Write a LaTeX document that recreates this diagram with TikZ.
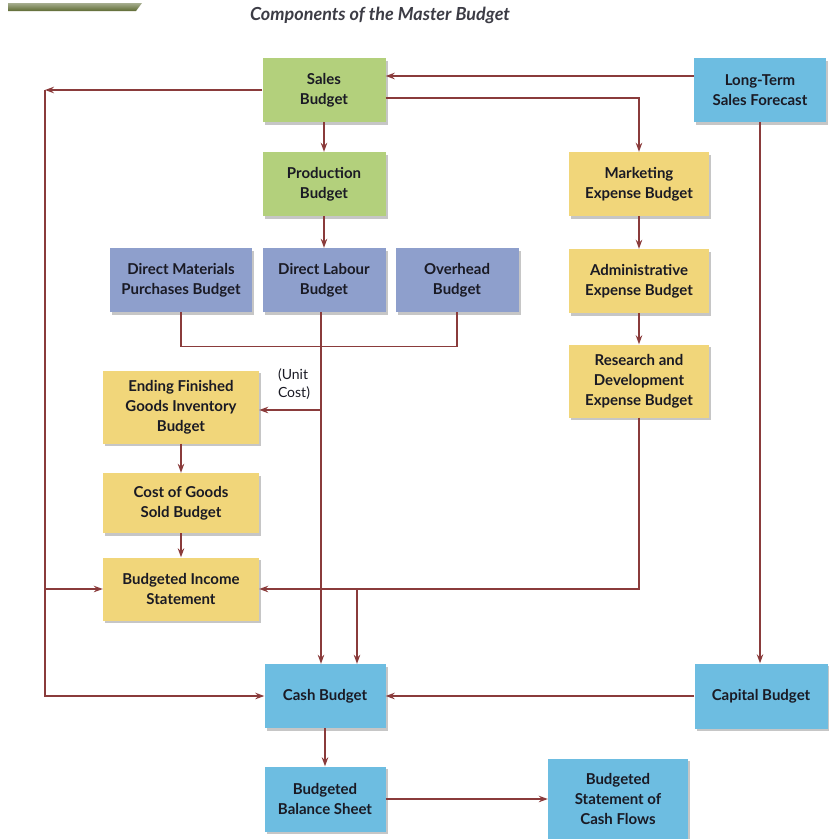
\documentclass[tikz,border=0pt]{standalone}
\usepackage{fontspec}
\setsansfont{Lato}
\usetikzlibrary{arrows.meta,shadows}

\definecolor{sgreen}{HTML}{B3D07C}
\definecolor{sblue}{HTML}{8E9FCC}
\definecolor{syellow}{HTML}{F1D67A}
\definecolor{scyan}{HTML}{6DBDE1}
\definecolor{arrowred}{HTML}{8A3B3B}
\definecolor{olivebar}{HTML}{5E6B33}
\definecolor{boxtext}{HTML}{1A1A24}

\tikzset{
  box/.style={rectangle, align=center, inner sep=2pt, text=boxtext,
    font=\sffamily\bfseries\fontsize{15}{20}\selectfont,
    drop shadow={opacity=0.45, shadow xshift=2pt, shadow yshift=-2.5pt}},
  greenbox/.style={box, fill=sgreen},
  bluebox/.style={box, fill=sblue},
  yellowbox/.style={box, fill=syellow},
  cyanbox/.style={box, fill=scyan},
  link/.style={draw=arrowred, line width=1.3pt},
  flow/.style={link, -{Stealth[length=9pt, width=6.5pt]}}
}

\begin{document}
\begin{tikzpicture}[x=1pt, y=-1pt]
    \useasboundingbox (0,0) rectangle (829,839);

    % header
    \shade[top color=olivebar!55, bottom color=olivebar] (8,3) -- (142,3) -- (136,11) -- (8,11) -- cycle;
    \node (title) at (380,15)
      {\sffamily\bfseries\itshape\fontsize{18}{20}\selectfont\color{boxtext!85} Components of the Master Budget};

    % boxes
    \node[greenbox, minimum width=123, minimum height=64] (sales) at (324,90) {Sales\\Budget};
    \node[cyanbox, minimum width=132, minimum height=64] (forecast) at (760,90) {Long-Term\\Sales Forecast};
    \node[greenbox, minimum width=123, minimum height=64] (prod) at (324,184) {Production\\Budget};
    \node[yellowbox, minimum width=140, minimum height=64] (mkt) at (639,184) {Marketing\\Expense Budget};
    \node[bluebox, minimum width=142, minimum height=64] (dmat) at (181,280) {Direct Materials\\Purchases Budget};
    \node[bluebox, minimum width=123, minimum height=64] (labour) at (324,280) {Direct Labour\\Budget};
    \node[bluebox, minimum width=123, minimum height=64] (ovh) at (457,280) {Overhead\\Budget};
    \node[yellowbox, minimum width=140, minimum height=64] (admin) at (639,281) {Administrative\\Expense Budget};
    \node[yellowbox, minimum width=140, minimum height=73] (rd) at (639,381) {Research and\\Development\\Expense Budget};
    \node[yellowbox, minimum width=156, minimum height=73] (ending) at (181,407) {Ending Finished\\Goods Inventory\\Budget};
    \node[yellowbox, minimum width=156, minimum height=60] (cogs) at (181,503) {Cost of Goods\\Sold Budget};
    \node[yellowbox, minimum width=156, minimum height=63] (income) at (181,589) {Budgeted Income\\Statement};
    \node[cyanbox, minimum width=121, minimum height=64] (cash) at (325,696) {Cash Budget};
    \node[cyanbox, minimum width=133, minimum height=65] (capital) at (761,696) {Capital Budget};
    \node[cyanbox, minimum width=121, minimum height=65] (balance) at (325,799) {Budgeted\\Balance Sheet};
    \node[cyanbox, minimum width=140, minimum height=81] (flows) at (618,799) {Budgeted\\Statement of\\Cash Flows};

    \node[align=left, text=boxtext, font=\sffamily\fontsize{14}{18}\selectfont] (unitcost) at (294,384) {(Unit\\Cost)};

    \coordinate (lft) at (45,90);

    % connectors
    \draw[flow] ([yshift=14pt]forecast.west) -- ([yshift=14pt]forecast.west -| sales.east);
    \draw[flow] (sales.west) -- (lft);
    \draw[flow] (lft) |- (cash.west);
    \draw[flow] (lft |- income.west) -- (income.west);
    \draw[flow] (sales) -- (prod);
    \draw[flow] ([yshift=-8pt]sales.east) -| (mkt.north);
    \draw[flow] (prod) -- (labour);
    \draw[flow] (mkt) -- (admin);
    \draw[flow] (admin) -- (rd);

    \draw[link] (dmat.south) -- ++(0,34) -| (ovh.south);
    \draw[flow] ([xshift=-3pt]labour.south) -- ([xshift=-3pt]labour.south |- cash.north);
    \draw[flow] ([xshift=-3pt]labour.south |- 0,410) -- (ending.east |- 0,410);

    \draw[flow] (ending) -- (cogs);
    \draw[flow] (cogs) -- (income);

    \draw[flow] (rd.south) |- (income.east);
    \draw[flow] ([xshift=32pt]cash.north |- income.east) -- ([xshift=32pt]cash.north);

    \draw[flow] (forecast.south) -- (forecast.south |- capital.north);
    \draw[flow] (capital) -- (cash);
    \draw[flow] (cash) -- (balance);
    \draw[flow] (balance) -- (flows);

  \end{tikzpicture}
\end{document}
